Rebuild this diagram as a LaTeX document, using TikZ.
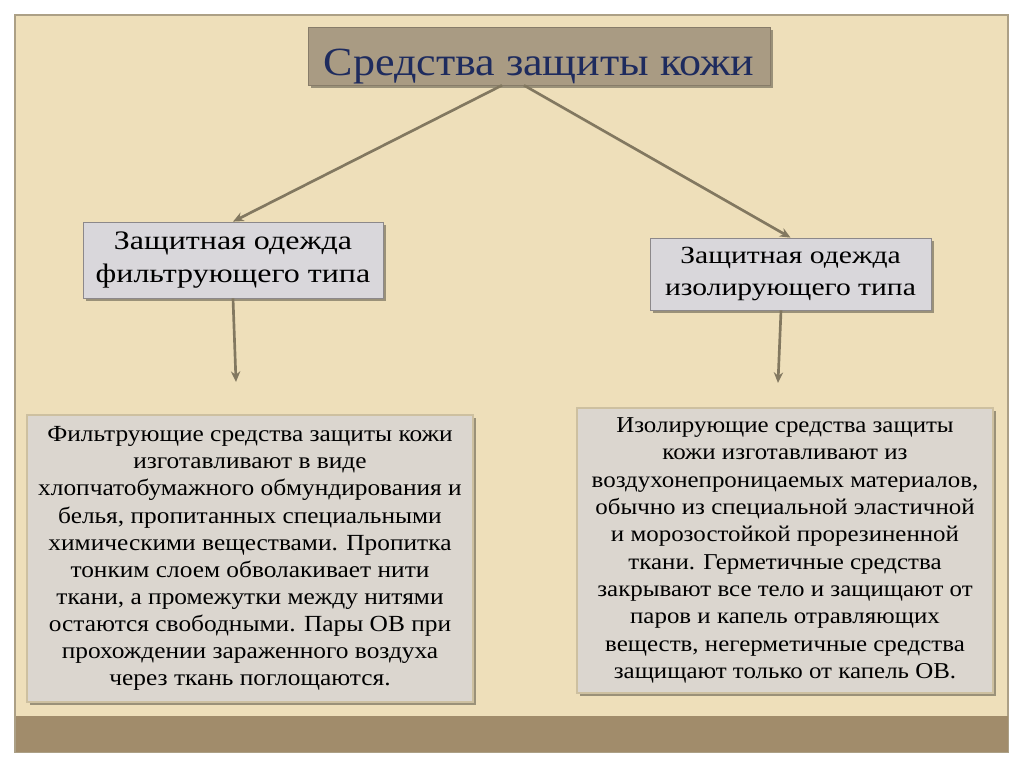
\documentclass[tikz,border=0pt]{standalone}
\usepackage{fontspec}
\setmainfont{Liberation Serif}[FakeStretch=1.1]
\newfontfamily\widefont{Liberation Serif}[FakeStretch=1.2]
\usetikzlibrary{arrows.meta,shadows,calc}

\definecolor{pagebeige}{RGB}{238,223,186}
\definecolor{frameedge}{RGB}{172,160,134}
\definecolor{bandbrown}{RGB}{161,140,107}
\definecolor{titlefill}{RGB}{169,155,131}
\definecolor{titleblue}{RGB}{30,43,94}
\definecolor{midfill}{RGB}{217,215,219}
\definecolor{midedge}{RGB}{140,136,138}
\definecolor{notefill}{RGB}{219,214,207}
\definecolor{noteedge}{RGB}{205,192,160}
\definecolor{linkbrown}{RGB}{130,120,96}

\tikzset{
  softshadow/.style={drop shadow={shadow xshift=2.5pt, shadow yshift=-2.5pt, opacity=0.35, fill=black}},
  headbox/.style={fill=titlefill, draw=titlefill!80!black, line width=0.5pt, inner sep=0pt,
    text=titleblue, font=\fontsize{30}{34}\selectfont, text height=28.5pt, text depth=0pt, softshadow},
  kindbox/.style={fill=midfill, draw=midedge, line width=0.6pt, inner sep=0pt, align=center, softshadow},
  notebox/.style={fill=notefill, draw=noteedge, line width=1.2pt, inner sep=0pt, align=center,
    font=\fontsize{17.3}{20.3}\selectfont, softshadow},
  link/.style={draw=linkbrown, line width=2pt, -{Stealth[length=8pt,width=7pt]}},
}

\begin{document}
\begin{tikzpicture}[x=0.75pt,y=0.75pt,yscale=-1,xscale=1]
\useasboundingbox (0,0) rectangle (1024,767);

%Shape: Rectangle [frame]
\fill[white] (0,0) rectangle (1024,767);
\draw[frameedge, fill=pagebeige, line width=1pt] (15,15) rectangle (1008,752);
%Shape: Rectangle [band]
\fill[bandbrown] (15.5,716) rectangle (1007.5,751.5);

% Title Node
\node[headbox, minimum width=346.5pt, minimum height=43.5pt] (title) at (539,56) {Средства защиты кожи};

% Text Node
\node[kindbox, minimum width=225pt, minimum height=57pt, font=\widefont\fontsize{20}{24.75}\selectfont] (filt) at (233,260)
  {Защитная одежда\\фильтрующего типа};
% Text Node
\node[kindbox, minimum width=210.75pt, minimum height=54pt, font=\widefont\fontsize{18.5}{24}\selectfont] (isol) at (790.5,274)
  {Защитная одежда\\изолирующего типа};

% Text Node
\node[notebox, minimum width=334.5pt, minimum height=215.25pt] (filtnote) at (250,558.5)
  {Фильтрующие средства защиты кожи\\
   изготавливают в виде\\
   хлопчатобумажного обмундирования и\\
   белья, пропитанных специальными\\
   химическими веществами. Пропитка\\
   тонким слоем обволакивает нити\\
   ткани, а промежутки между нитями\\
   остаются свободными. Пары ОВ при\\
   прохождении зараженного воздуха\\
   через ткань поглощаются.};
% Text Node
\node[notebox, minimum width=312pt, minimum height=213.75pt, font=\fontsize{17}{20.5}\selectfont] (isolnote) at (785,550.5)
  {Изолирующие средства защиты\\
   кожи изготавливают из\\
   воздухонепроницаемых материалов,\\
   обычно из специальной эластичной\\
   и морозостойкой прорезиненной\\
   ткани. Герметичные средства\\
   закрывают все тело и защищают от\\
   паров и капель отравляющих\\
   веществ, негерметичные средства\\
   защищают только от капель ОВ.};

%Straight Lines
\coordinate (filtend) at (236,382);
\coordinate (isolend) at (778,383);
\draw[link] ($(title.south)+(-37,0)$) -- (filt.north);
\draw[link] ($(title.south)+(-15,0)$) -- (isol.north);
\draw[link] (filt.south) -- (filtend);
\draw[link] ($(isol.south)+(-9.5,0)$) -- (isolend);

\end{tikzpicture}
\end{document}
